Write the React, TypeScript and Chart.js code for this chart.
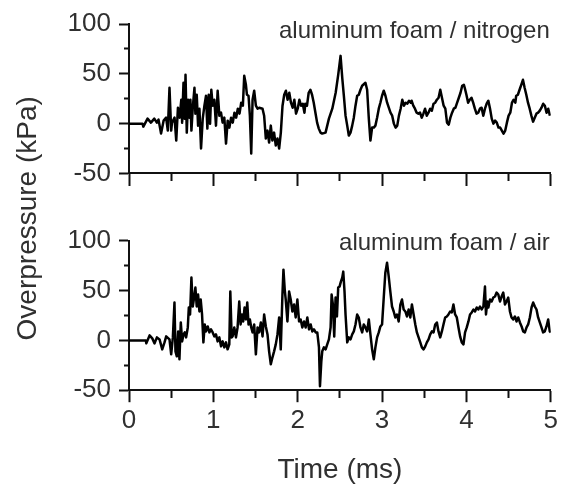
import React, { useEffect, useRef } from "react";
import { Chart, registerables } from "chart.js";

Chart.register(...registerables);

// ---- data (time in ms, overpressure in kPa) ----
const nitrogenTime = [
  0, 0.16, 0.17, 0.22, 0.26, 0.3, 0.33, 0.35, 0.38, 0.41,
  0.44, 0.46, 0.48, 0.5, 0.51, 0.54, 0.56, 0.58, 0.6, 0.62,
  0.63, 0.646, 0.66, 0.67, 0.685, 0.7, 0.717, 0.728, 0.74, 0.756,
  0.776, 0.787, 0.803, 0.819, 0.835, 0.854, 0.874, 0.894, 0.913, 0.929,
  0.945, 0.961, 0.976, 0.992, 1.012, 1.031, 1.051, 1.071, 1.091, 1.11,
  1.13, 1.15, 1.17, 1.19, 1.21, 1.23, 1.25, 1.27, 1.29, 1.31,
  1.33, 1.35, 1.366, 1.386, 1.398, 1.417, 1.433, 1.449, 1.465, 1.484,
  1.504, 1.524, 1.543, 1.583, 1.602, 1.622, 1.642, 1.661, 1.681, 1.7,
  1.72, 1.74, 1.76, 1.78, 1.8, 1.82, 1.84, 1.86, 1.88, 1.9,
  1.92, 1.94, 1.96, 1.98, 2.0, 2.02, 2.04, 2.06, 2.08, 2.09,
  2.11, 2.13, 2.15, 2.17, 2.19, 2.21, 2.23, 2.25, 2.27, 2.29,
  2.33, 2.35, 2.37, 2.41, 2.45, 2.48, 2.508, 2.528, 2.547, 2.567,
  2.587, 2.606, 2.626, 2.646, 2.665, 2.685, 2.705, 2.724, 2.744, 2.764,
  2.803, 2.823, 2.843, 2.862, 2.882, 2.902, 2.921, 2.941, 2.961, 2.98,
  3.0, 3.02, 3.04, 3.06, 3.08, 3.1, 3.12, 3.14, 3.16, 3.18,
  3.2, 3.22, 3.24, 3.26, 3.28, 3.3, 3.32, 3.34, 3.35, 3.37,
  3.39, 3.41, 3.43, 3.45, 3.47, 3.49, 3.51, 3.53, 3.55, 3.57,
  3.59, 3.61, 3.63, 3.65, 3.67, 3.69, 3.71, 3.73, 3.75, 3.77,
  3.79, 3.81, 3.83, 3.85, 3.87, 3.89, 3.91, 3.93, 3.95, 3.97,
  3.98, 4.0, 4.02, 4.04, 4.06, 4.08, 4.1, 4.12, 4.14, 4.16,
  4.18, 4.2, 4.22, 4.24, 4.26, 4.28, 4.3, 4.32, 4.34, 4.36,
  4.38, 4.4, 4.42, 4.44, 4.46, 4.48, 4.5, 4.52, 4.54, 4.56,
  4.58, 4.59, 4.61, 4.63, 4.65, 4.67, 4.69, 4.71, 4.73, 4.75,
  4.77, 4.79, 4.81, 4.83, 4.85, 4.87, 4.89, 4.91, 4.93, 4.95,
  4.97, 4.99,
];
const nitrogenPressure = [
  0, 0, -3, 5, 1, 5, 1, 4, -10, 3,
  6, -7, 36, -7, 1, 6, -17, 16, 6, 24,
  1, 41, 5, 49, -9, 24, 6, 24, -7, 16,
  36, 10, 29, -2, 15, -25, 5, 18, 28, -5,
  29, 0, 34, 18, 24, -2, 33, 8, 11, 1,
  6, -20, 3, -4, 6, 1, 11, 6, 15, 10,
  21, 18, 48, 39, 29, 28, 8, -30, 24, 33,
  18, 15, 16, 15, 8, -15, -7, -19, -2, -17,
  -9, -22, -15, -25, -9, 18, 29, 33, 24, 31,
  21, 16, 24, 10, 15, 24, 18, 20, 11, 20,
  18, 31, 34, 29, 21, 11, 1, -5, -9, -10,
  -9, -2, 5, 15, 31, 49, 68, 46, 28, 8,
  -2, -12, -9, -2, 6, 18, 28, 29, 34, 38,
  41, 34, 5, -17, -4, -4, -2, 6, 15, 21,
  28, 33, 28, 21, 16, 11, 8, 0, -4, -2,
  8, 15, 24, 18, 21, 20, 23, 21, 23, 18,
  15, 11, 10, 11, 6, 10, 15, 8, 11, 15,
  13, 20, 21, 24, 26, 34, 26, 18, 15, 1,
  -1, 6, 11, 15, 16, 21, 26, 31, 38, 39,
  36, 29, 21, 24, 26, 21, 15, 10, 11, 15,
  16, 8, 15, 20, 23, 15, 5, 0, 3, 1,
  -4, -4, -7, -10, -7, 1, 8, 11, 21, 24,
  21, 28, 29, 34, 39, 44, 36, 29, 21, 15,
  8, 2, 6, 10, 11, 13, 16, 20, 18, 11,
  15, 8,
];

const airTime = [
  0, 0.2, 0.205, 0.244, 0.276, 0.303, 0.331, 0.362, 0.394, 0.421,
  0.441, 0.48, 0.5, 0.52, 0.539, 0.551, 0.567, 0.583, 0.598, 0.614,
  0.63, 0.646, 0.661, 0.677, 0.697, 0.709, 0.724, 0.74, 0.756, 0.772,
  0.787, 0.803, 0.819, 0.835, 0.85, 0.866, 0.882, 0.898, 0.913, 0.933,
  0.953, 0.972, 0.992, 1.012, 1.031, 1.051, 1.071, 1.091, 1.11, 1.13,
  1.15, 1.169, 1.189, 1.201, 1.217, 1.228, 1.248, 1.268, 1.287, 1.307,
  1.323, 1.339, 1.354, 1.37, 1.386, 1.402, 1.417, 1.433, 1.449, 1.465,
  1.484, 1.504, 1.524, 1.543, 1.563, 1.583, 1.602, 1.622, 1.642, 1.661,
  1.681, 1.701, 1.72, 1.74, 1.76, 1.78, 1.799, 1.819, 1.831, 1.846,
  1.858, 1.878, 1.898, 1.917, 1.937, 1.957, 1.976, 1.996, 2.016, 2.035,
  2.055, 2.075, 2.094, 2.114, 2.134, 2.154, 2.173, 2.193, 2.213, 2.232,
  2.252, 2.264, 2.28, 2.291, 2.311, 2.331, 2.35, 2.37, 2.39, 2.402,
  2.417, 2.433, 2.449, 2.465, 2.48, 2.496, 2.512, 2.528, 2.54, 2.555,
  2.567, 2.587, 2.606, 2.626, 2.646, 2.665, 2.685, 2.705, 2.724, 2.744,
  2.764, 2.783, 2.803, 2.823, 2.843, 2.862, 2.882, 2.902, 2.921, 2.941,
  2.961, 2.98, 3.0, 3.02, 3.039, 3.059, 3.079, 3.098, 3.118, 3.138,
  3.157, 3.177, 3.197, 3.217, 3.236, 3.256, 3.276, 3.295, 3.315, 3.335,
  3.354, 3.374, 3.394, 3.413, 3.433, 3.453, 3.472, 3.492, 3.512, 3.531,
  3.551, 3.571, 3.591, 3.61, 3.63, 3.65, 3.669, 3.689, 3.709, 3.728,
  3.748, 3.768, 3.787, 3.807, 3.827, 3.846, 3.866, 3.886, 3.906, 3.925,
  3.945, 3.965, 3.984, 4.004, 4.024, 4.043, 4.063, 4.083, 4.102, 4.122,
  4.142, 4.161, 4.181, 4.201, 4.22, 4.232, 4.248, 4.26, 4.28, 4.299,
  4.319, 4.339, 4.358, 4.378, 4.398, 4.417, 4.437, 4.457, 4.476, 4.496,
  4.516, 4.535, 4.555, 4.575, 4.594, 4.614, 4.634, 4.654, 4.673, 4.693,
  4.713, 4.732, 4.752, 4.772, 4.791, 4.811, 4.831, 4.85, 4.87, 4.89,
  4.909, 4.929, 4.949, 4.969, 4.988, 5.0,
];
const airPressure = [
  0, 0, -3, 5, 2, -3, 3, 1, -9, -2,
  4, 1, -14, 3, 38, -11, -16, 9, -19, 18,
  -1, 6, 8, 3, 13, 33, 26, 63, 34, 43,
  53, 34, 46, 29, 41, 26, -2, 16, 9, 14,
  8, 11, 8, 4, 6, -1, 3, -6, -1, -7,
  -2, -9, -4, 49, 3, 4, 13, 3, 13, 39,
  16, 26, 19, 33, 21, 38, 16, 21, 13, 8,
  16, -14, 13, 8, 18, 4, 26, 14, 6, -11,
  -24, -17, -11, -4, 6, 23, -9, 46, 71, 51,
  41, 19, 49, 41, 29, 36, 23, 41, 19, 21,
  13, 19, 13, 23, 11, 16, 9, 11, 8, 8,
  -7, -46, -21, -11, -7, -9, -4, 1, 13, 46,
  36, 4, 43, 24, 53, 54, 59, 63, 69, 49,
  26, -2, 3, 1, 6, 9, 16, 26, 23, 13,
  8, 16, 13, 9, 21, 6, -9, -19, -7, 3,
  8, 14, 16, 43, 68, 78, 64, 49, 34, 29,
  23, 26, 19, 36, 41, 31, 29, 24, 31, 23,
  36, 26, 16, 8, 3, -2, -7, -9, -6, -2,
  1, 6, 9, 8, 16, 18, 9, 3, 9, 16,
  23, 24, 26, 29, 28, 36, 26, 23, 13, 4,
  -2, -4, 8, 13, 19, 26, 28, 31, 29, 33,
  31, 34, 31, 34, 54, 26, 39, 33, 41, 39,
  43, 44, 48, 46, 39, 44, 48, 36, 39, 43,
  29, 23, 21, 24, 19, 23, 18, 14, 9, 8,
  13, 16, 23, 33, 38, 34, 31, 23, 18, 13,
  8, 9, 14, 21, 9, 8,
];

const panelLabels = ["aluminum foam / nitrogen", "aluminum foam / air"];
const xAxisTitle = "Time (ms)";
const yAxisTitle = "Overpressure (kPa)";

// ---- styling ----
const FONT = '"Liberation Sans", Arial, Helvetica, sans-serif';
const TEXT = "#303030";
const AXIS = "#111111";

const toPoints = (t: number[], v: number[]) => t.map((x, i) => ({ x, y: v[i] }));

const xGrid = {
  drawOnChartArea: false,
  drawTicks: true,
  tickLength: 12,
  tickWidth: 2,
  tickColor: AXIS,
  tickBorderDash: (c: any) => (c.tick && Number.isInteger(c.tick.value) ? [] : [7, 40]),
};

const yPanel = (weight: number) => ({
  type: "linear" as const,
  position: "left" as const,
  stack: "panels",
  stackWeight: weight,
  min: -50,
  max: 100,
  ticks: {
    stepSize: 25,
    autoSkip: false,
    padding: 8,
    color: TEXT,
    font: { family: FONT, size: 26 },
    callback: (v: any) => (Number(v) % 50 === 0 ? String(v) : ""),
  },
  grid: {
    drawOnChartArea: false,
    tickLength: 10,
    tickWidth: 2,
    tickColor: AXIS,
    tickBorderDash: (c: any) => (c.tick && c.tick.value % 50 === 0 ? [] : [0, 5, 40]),
  },
  border: { display: true, color: AXIS, width: 2 },
  afterFit: (s: any) => {
    s.width = 129;
  },
});

const spacer = (weight: number, withTitle: boolean) => ({
  type: "linear" as const,
  position: "left" as const,
  stack: "panels",
  stackWeight: weight,
  min: 0,
  max: 1,
  ticks: { display: false },
  grid: { display: false },
  border: { display: false },
  title: {
    display: withTitle,
    text: yAxisTitle,
    color: TEXT,
    font: { family: FONT, size: 28 },
    padding: { top: 11, bottom: 0 },
  },
  afterFit: (s: any) => {
    s.width = 129;
  },
});

const panelLabelPlugin = {
  id: "panelLabels",
  afterDatasetsDraw(chart: any) {
    const { ctx, chartArea, scales } = chart;
    ctx.save();
    ctx.font = `24px ${FONT}`;
    ctx.fillStyle = TEXT;
    ctx.textAlign = "right";
    ctx.textBaseline = "alphabetic";
    ctx.fillText(panelLabels[0], chartArea.right - 1, scales.yN2.getPixelForValue(86));
    ctx.fillText(panelLabels[1], chartArea.right - 1, scales.yAir.getPixelForValue(91));
    ctx.restore();
  },
};

export default function App() {
  const ref = useRef<HTMLCanvasElement | null>(null);

  useEffect(() => {
    if (!ref.current) return;
    const lineStyle = {
      borderColor: "#000",
      borderWidth: 2.5,
      pointRadius: 0,
      tension: 0,
      fill: false,
      borderJoinStyle: "round" as const,
    };
    const chart = new Chart(ref.current, {
      type: "line",
      data: {
        datasets: [
          { label: panelLabels[0], data: toPoints(nitrogenTime, nitrogenPressure), xAxisID: "x", yAxisID: "yN2", ...lineStyle },
          { label: panelLabels[1], data: toPoints(airTime, airPressure), xAxisID: "x", yAxisID: "yAir", ...lineStyle },
        ],
      },
      options: {
        animation: false,
        responsive: false,
        maintainAspectRatio: false,
        devicePixelRatio: 1,
        layout: { padding: { top: 24, right: 8, bottom: 0, left: 0 } },
        plugins: { legend: { display: false }, tooltip: { enabled: false } },
        scales: {
          x: {
            type: "linear",
            position: "bottom",
            min: 0,
            max: 5,
            ticks: {
              stepSize: 0.5,
              autoSkip: false,
              maxRotation: 0,
              padding: 3,
              color: TEXT,
              font: { family: FONT, size: 26 },
              callback: (v: any) => (Number.isInteger(Number(v)) ? String(v) : ""),
            },
            grid: xGrid,
            border: { display: true, color: AXIS, width: 2 },
            title: {
              display: true,
              text: xAxisTitle,
              color: TEXT,
              font: { family: FONT, size: 28 },
              padding: { top: 14, bottom: 0 },
            },
          },
          xTop: {
            type: "linear",
            position: { yN2: -50 } as any,
            min: 0,
            max: 5,
            ticks: { stepSize: 0.5, autoSkip: false, display: false },
            grid: xGrid,
            border: { display: true, color: AXIS, width: 2 },
          },
          yAir: yPanel(151),
          gapLow: spacer(45.4, true),
          gapHigh: spacer(22.6, false),
          yN2: yPanel(151),
        } as any,
      },
      plugins: [panelLabelPlugin],
    } as any);
    return () => chart.destroy();
  }, []);

  return (
    <div style={{ position: "fixed", left: 0, top: 0, width: 561, height: 487, background: "#fff" }}>
      <canvas ref={ref} width={561} height={487} style={{ display: "block", width: 561, height: 487 }} />
    </div>
  );
}
